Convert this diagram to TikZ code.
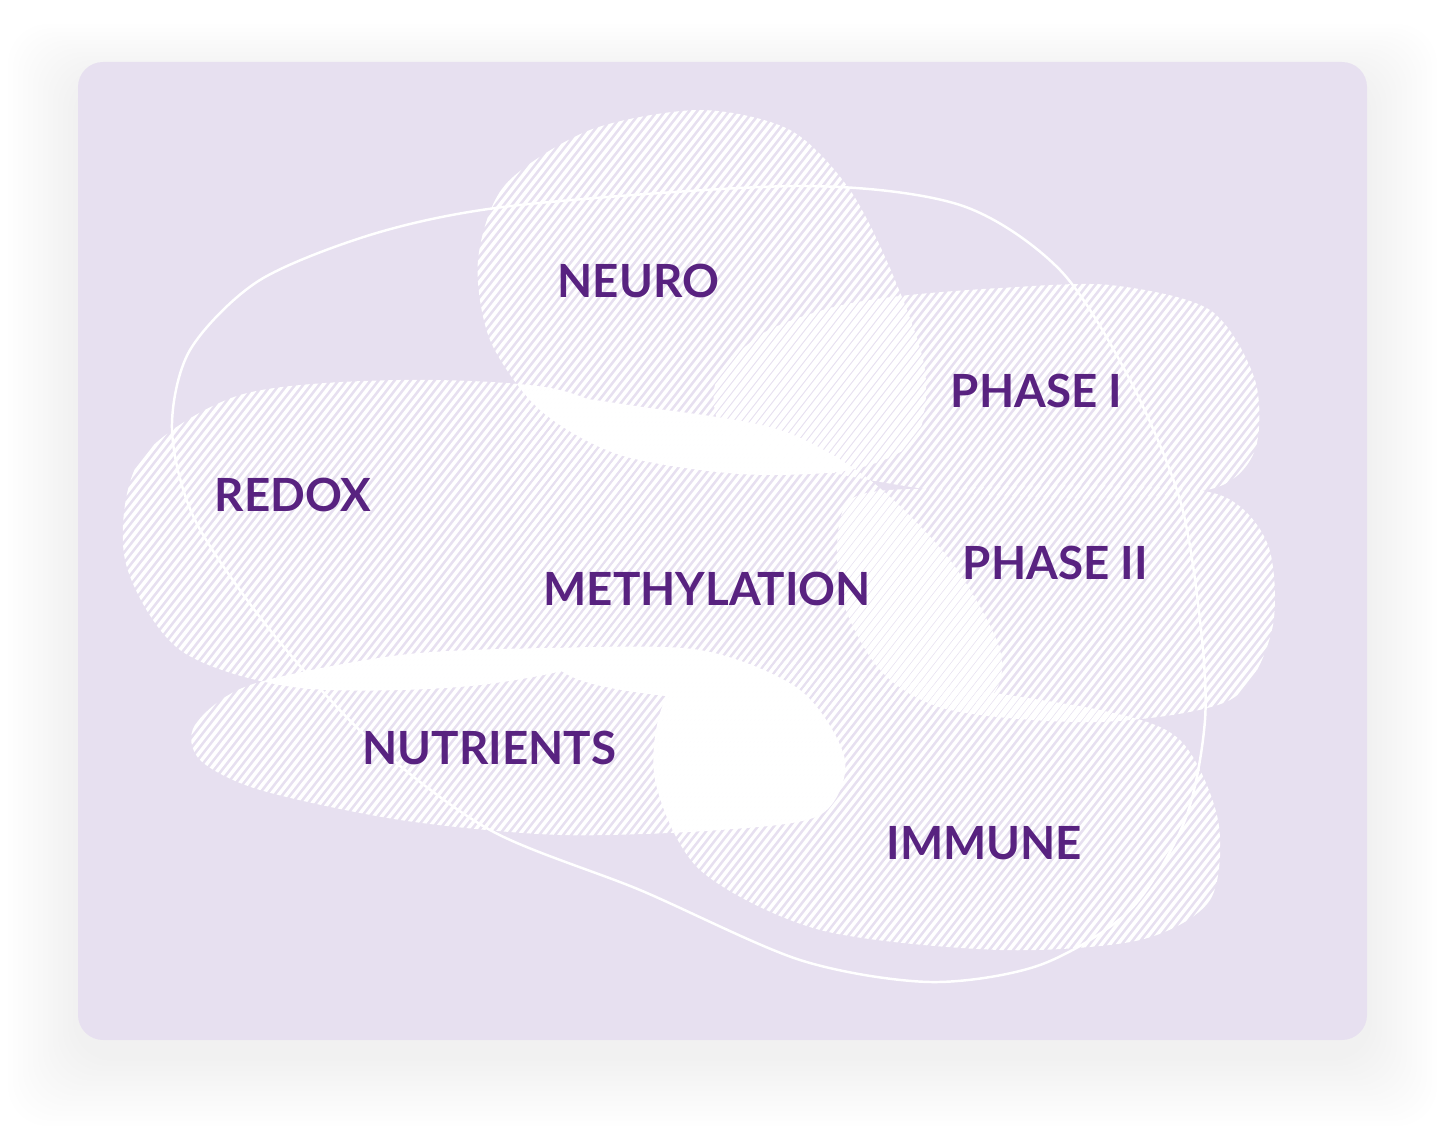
\documentclass[tikz,border=0pt]{standalone}
\usepackage{fontspec}
\setmainfont{Lato}
\definecolor{cardbg}{RGB}{231,224,240}
\definecolor{labelpurple}{RGB}{88,34,128}
\tikzset{
  hatchline/.style={white, line width=1pt},
  ringline/.style={white, line width=0.7pt},
  blobname/.style={font=\fontsize{13}{13}\selectfont\bfseries, text=labelpurple, anchor=west, inner sep=0pt},
}
% white diagonal hatching clipped to a smooth blob, #1 = phase shift in px
\newcommand\hatchblob[2]{%
  \begin{scope}
    \clip plot[smooth cycle] coordinates {#2};
    \foreach \hx in {-900,-892,...,1400}
      \draw[hatchline] ({\hx+#1},1100) -- ({\hx+#1+860},0);
  \end{scope}}
\begin{document}
\begin{tikzpicture}[x=0.01cm,y=-0.01cm]
	\useasboundingbox (0,0) rectangle (1445,1137);
	% soft shadow and card
	\foreach \i in {1,...,14}
		\fill[black, opacity=0.0035, rounded corners=4mm] (78-\i*5, 80-\i*4) rectangle (1367+\i*5, 1056+\i*5);
	\fill[cardbg, rounded corners=2.5mm] (78,62) rectangle (1367,1040);

	% blobs
	\hatchblob{0}{(240,395) (400,380) (560,390) (640,440) (650,560) (620,650) (480,685) (300,688) (180,650) (125,560) (140,460)}% redox
	\hatchblob{0}{(530,398) (650,408) (780,430) (870,480) (950,560) (1000,650) (985,700) (880,710) (700,700) (560,670) (520,560) (510,460)}% methylation
	\hatchblob{4}{(700,110) (790,130) (850,190) (895,280) (925,370) (915,440) (850,470) (740,474) (620,455) (540,410) (490,340) (478,260) (505,185) (590,130)}% neuro
	\hatchblob{2}{(900,296) (1000,288) (1110,285) (1210,310) (1255,380) (1255,450) (1215,488) (1100,498) (950,492) (820,470) (730,440) (715,385) (760,335) (830,308)}% phase I
	\hatchblob{2.5}{(850,500) (960,488) (1100,485) (1220,495) (1268,545) (1272,630) (1230,700) (1100,722) (950,710) (880,670) (840,590)}% phase II
	\hatchblob{0}{(720,655) (900,680) (1100,710) (1180,740) (1218,820) (1210,900) (1140,940) (1000,950) (820,930) (700,870) (655,780) (665,700)}% immune
	\hatchblob{4}{(195,725) (250,685) (400,655) (550,648) (700,650) (800,690) (845,760) (820,815) (720,830) (560,835) (400,820) (260,790) (200,760)}% nutrients

	% outer ring
	\draw[ringline] plot[smooth cycle] coordinates {(520,205) (800,186) (960,205) (1060,270) (1130,380) (1180,500) (1200,620) (1205,720) (1185,820) (1130,910) (1040,965) (930,982) (800,960) (640,890) (490,830) (370,740) (270,630) (195,520) (172,430) (190,350) (260,280) (380,232)};

	% labels
	\node[blobname] (neuro) at (557,281) {NEURO};
	\node[blobname] (phasei) at (950,391) {PHASE I};
	\node[blobname] (redox) at (214,495) {REDOX};
	\node[blobname] (phaseii) at (962,563) {PHASE II};
	\node[blobname] (methylation) at (543,589) {METHYLATION};
	\node[blobname] (nutrients) at (362,748) {NUTRIENTS};
	\node[blobname] (immune) at (886,843) {IMMUNE};
\end{tikzpicture}
\end{document}
